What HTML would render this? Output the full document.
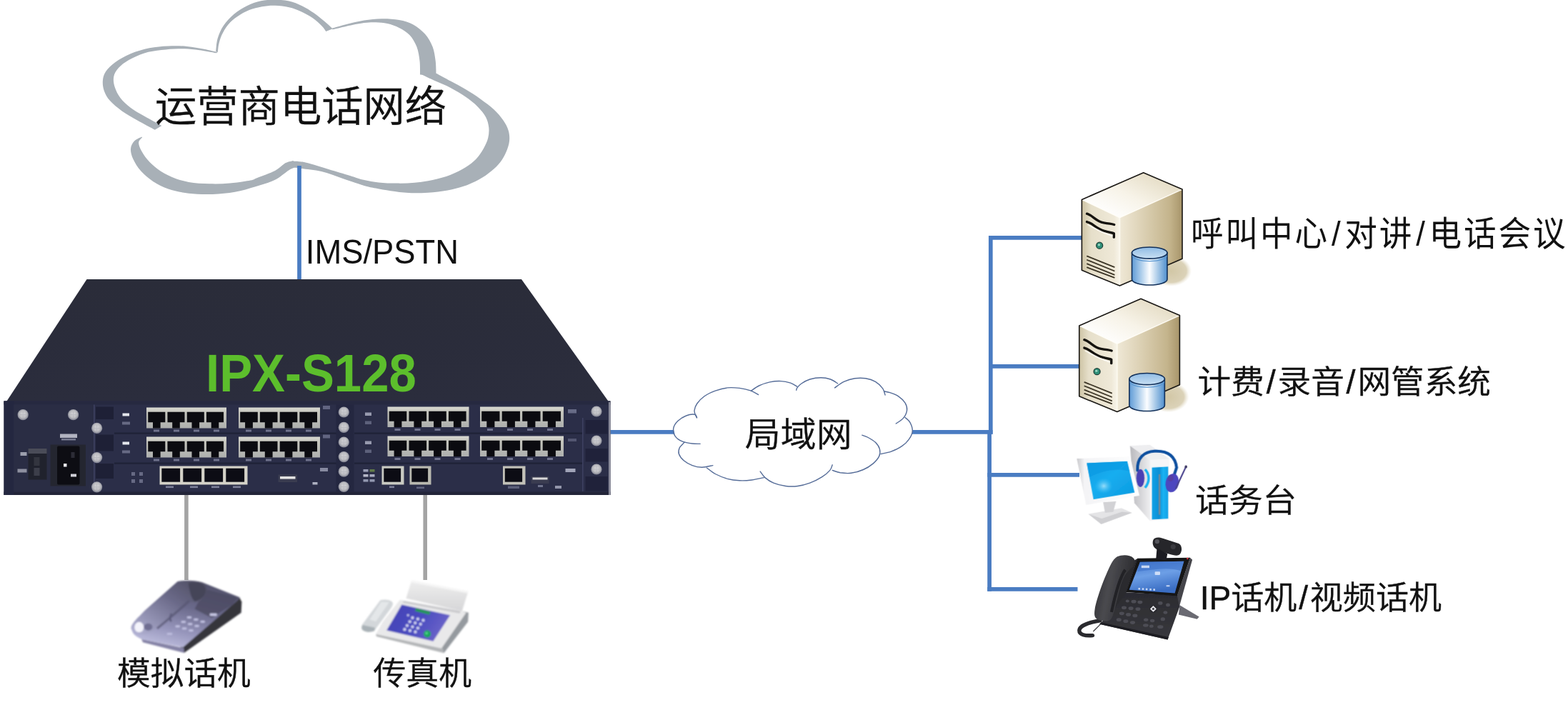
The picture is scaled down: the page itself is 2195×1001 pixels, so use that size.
<!DOCTYPE html>
<html lang="zh-CN">
<head>
<meta charset="utf-8">
<title>IPX-S128 组网图</title>
<style>
html,body{margin:0;padding:0;background:#fff;}
body{width:2195px;height:1001px;overflow:hidden;}
svg{display:block;}
text{font-family:"Liberation Sans","Noto Sans CJK SC",sans-serif;fill:#111;}
.cn{font-weight:400;}
</style>
</head>
<body>
<svg width="2195" height="1001" viewBox="0 0 2195 1001">
<rect width="2195" height="1001" fill="#fff"/>
<g id="links" stroke="#4a7cc2" stroke-width="5.7" fill="none" stroke-linecap="butt">
<path d="M852 604.9H945"/>
<path d="M1277 604.9H1389.6"/>
<path d="M1386.8 330V607.7"/>
<path d="M1385.1 602V827.7"/>
<path d="M1384 332.85H1515"/>
<path d="M1384 512.9H1512"/>
<path d="M1382.3 664.9H1511"/>
<path d="M1382.3 824.9H1508.5"/>
</g>
<g id="links-grey" stroke="#a4a4a4" stroke-width="5.6" fill="none">
<path d="M260.9 692V812"/>
<path d="M595.2 692V812"/>
</g>
<g id="cloud-big" fill="#a8b0b7">
<path d="M304.5 73.0C301.4 72.3 292.9 70.1 285.8 68.7C278.7 67.3 270.2 65.6 261.8 64.9C253.4 64.1 244.2 64.0 235.5 64.4C226.7 64.8 217.9 65.5 209.1 67.3C200.3 69.1 190.7 71.9 182.7 75.2C174.7 78.5 167.0 83.0 161.2 87.2C155.4 91.3 150.9 96.1 148.0 100.3C145.1 104.6 144.3 108.3 143.9 112.8C143.5 117.3 144.1 122.5 145.8 127.2C147.5 131.9 149.8 136.4 154.0 141.1C158.1 145.8 164.4 150.9 170.7 155.5C177.1 160.1 184.6 164.2 192.3 168.6C200.0 173.0 212.7 179.6 216.8 181.8L226.4 176.1C222.3 173.8 209.2 166.9 201.9 162.6C194.6 158.4 188.2 154.9 182.7 150.7C177.2 146.5 172.5 142.3 168.8 137.5C165.2 132.7 162.3 126.9 160.7 121.9C159.1 116.9 158.4 112.0 159.2 107.5C160.1 103.0 162.4 99.0 166.0 95.1C169.5 91.1 174.3 87.5 180.3 84.0C186.3 80.6 194.3 76.8 201.9 74.4C209.5 72.1 217.9 71.2 225.9 70.1C233.9 69.1 241.9 68.3 249.8 68.2C257.8 68.1 264.9 68.4 273.8 69.4C282.7 70.4 298.2 73.4 303.0 74.2Z"/>
<path d="M302.1 72.2C302.6 69.2 302.8 60.1 304.6 54.1C306.4 48.1 309.0 41.8 312.8 36.1C316.6 30.3 322.1 24.3 327.6 19.7C333.0 15.0 339.3 11.3 345.6 8.2C351.9 5.1 358.7 2.7 365.3 1.3C371.8 -0.1 378.4 -0.4 385.0 -0.3C391.5 -0.3 398.4 0.2 404.6 1.6C410.9 3.1 416.9 5.5 422.7 8.2C428.4 10.9 433.9 14.5 439.1 18.0C444.3 21.6 449.4 25.8 453.8 29.5C458.3 33.2 463.7 38.5 465.7 40.3L456.3 44.0C455.4 42.7 453.7 39.6 450.6 36.4C447.4 33.2 442.4 28.3 437.4 24.9C432.5 21.5 426.5 18.4 421.0 15.9C415.6 13.4 410.7 11.5 404.6 10.2C398.6 8.8 391.3 7.9 385.0 7.7C378.7 7.5 372.9 8.1 366.9 9.2C360.9 10.3 354.6 11.8 348.9 14.1C343.1 16.4 337.4 19.6 332.5 23.0C327.6 26.4 323.1 30.1 319.4 34.4C315.7 38.8 312.5 44.6 310.3 49.2C308.2 53.8 307.1 58.3 306.2 62.3C305.3 66.3 305.1 71.3 304.9 73.1Z"/>
<path d="M464.5 39.9C467.9 38.9 477.5 36.0 485.0 34.1C492.5 32.2 501.4 29.8 509.6 28.5C517.8 27.2 526.0 26.4 534.2 26.2C542.4 26.1 551.4 26.5 558.8 27.9C566.2 29.2 572.5 31.2 578.5 34.4C584.5 37.7 590.4 42.4 594.9 47.6C599.4 52.8 603.1 59.3 605.6 65.6C608.0 71.9 608.8 78.7 609.7 85.3C610.5 91.8 610.5 101.7 610.6 105.0L588.0 104.5C587.9 101.3 588.3 91.8 587.5 85.3C586.8 78.8 585.7 71.6 583.4 65.6C581.1 59.6 577.7 53.7 573.6 49.2C569.5 44.7 564.0 41.5 558.8 38.9C553.6 36.2 547.9 34.4 542.4 33.1C536.9 31.9 531.5 31.5 526.0 31.3C520.5 31.2 516.4 31.2 509.6 32.1C502.8 33.0 492.3 35.2 485.0 36.7C477.7 38.3 468.9 40.6 465.7 41.3Z"/>
<path d="M610.8 102.7C614.2 104.5 624.0 109.8 630.8 113.6C637.6 117.3 644.8 120.9 651.7 125.1C658.7 129.3 666.1 134.0 672.7 138.7C679.4 143.5 686.4 148.5 691.6 153.4C696.9 158.3 700.8 163.2 704.2 168.1C707.6 173.0 710.3 177.9 711.7 182.8C713.2 187.7 713.5 192.6 713.0 197.5C712.5 202.4 710.9 207.3 708.8 212.2C706.7 217.1 703.9 222.3 700.4 226.9C696.9 231.4 692.8 235.4 687.8 239.4C682.9 243.5 677.0 247.7 670.6 251.2C664.3 254.7 657.0 258.1 649.7 260.6C642.3 263.2 635.0 265.0 626.6 266.5C618.2 268.0 608.4 269.1 599.3 269.7C590.2 270.2 580.8 270.5 572.0 270.1C563.3 269.7 554.5 268.4 546.9 267.3C539.2 266.3 532.0 264.8 525.9 263.6C519.7 262.3 517.6 262.3 509.9 260.0C502.3 257.7 489.9 253.3 479.9 249.9C469.9 246.6 459.6 242.4 449.9 240.1C440.3 237.8 428.3 237.0 422.0 236.1C415.8 235.1 414.2 234.7 412.6 234.4L408.4 225.6C410.1 225.7 415.3 225.8 418.9 226.2C422.5 226.6 423.1 226.2 430.0 228.0C436.9 229.8 450.0 233.9 460.0 236.9C470.0 239.9 481.7 243.4 490.0 245.9C498.3 248.5 503.3 250.5 509.9 252.0C516.6 253.6 522.5 254.6 530.1 255.4C537.6 256.2 546.9 256.6 555.2 256.6C563.6 256.7 572.0 256.6 580.4 255.8C588.8 255.0 597.2 253.9 605.6 252.0C614.0 250.2 623.1 247.7 630.8 244.7C638.5 241.7 645.8 237.9 651.7 234.2C657.7 230.5 662.2 227.0 666.4 222.7C670.6 218.3 674.1 212.9 676.9 208.0C679.7 203.1 682.0 198.2 683.2 193.3C684.4 188.4 684.8 183.5 684.3 178.6C683.7 173.7 682.7 168.8 680.1 163.9C677.4 159.0 673.3 154.0 668.5 149.2C663.8 144.5 658.0 140.0 651.7 135.6C645.5 131.2 637.8 126.7 630.8 123.0C623.8 119.3 616.9 116.8 609.8 113.6C602.7 110.3 592.0 105.2 588.4 103.5Z"/>
<path d="M198.5 191.4C196.8 192.4 190.6 194.6 188.0 197.4C185.4 200.2 183.2 204.0 183.0 208.2C182.7 212.4 184.0 217.4 186.3 222.6C188.7 227.8 192.5 234.2 197.1 239.3C201.7 244.5 207.5 249.5 213.9 253.7C220.3 257.9 227.1 261.7 235.5 264.5C243.8 267.4 253.8 269.5 264.2 270.7C274.6 272.0 287.0 272.3 297.8 271.9C308.6 271.6 318.9 270.6 328.9 268.8C338.9 267.0 348.3 264.0 357.7 261.2C367.0 258.3 377.2 255.7 385.0 251.8C392.9 247.9 399.6 240.9 404.9 237.9C410.2 234.9 414.7 234.3 416.7 233.6L410.9 225.2C409.1 225.7 404.2 225.8 399.9 228.1C395.6 230.4 391.7 235.4 385.0 238.9C378.4 242.3 365.8 246.7 360.1 248.9C354.3 251.2 356.9 251.3 350.5 252.5C344.1 253.8 331.3 255.8 321.7 256.6C312.2 257.4 302.6 257.6 293.0 257.3C283.4 257.0 273.0 256.5 264.2 254.9C255.4 253.3 247.4 250.7 240.3 247.7C233.1 244.7 226.7 240.9 221.1 237.0C215.5 233.0 210.7 228.4 206.7 223.8C202.7 219.2 199.2 213.5 197.1 209.4C195.0 205.3 193.9 201.9 194.2 199.1C194.6 196.2 198.2 193.5 199.0 192.4Z"/>
</g>
<path d="M419 232V392" stroke="#4a7cc2" stroke-width="5.7" fill="none"/>
<defs>
<radialGradient id="scr" cx="50%" cy="45%" r="55%"><stop offset="0" stop-color="#d8d8da"/><stop offset="0.6" stop-color="#bcbcc0"/><stop offset="1" stop-color="#7d7f8e"/></radialGradient>
<linearGradient id="top" x1="0" y1="0" x2="0" y2="1"><stop offset="0" stop-color="#2a2c39"/><stop offset="1" stop-color="#2b2d3d"/></linearGradient>
<linearGradient id="frm" x1="0" y1="0" x2="0" y2="1"><stop offset="0" stop-color="#d9d9d2"/><stop offset="0.25" stop-color="#c4c4bc"/><stop offset="1" stop-color="#aeb0ae"/></linearGradient>
</defs>
<g id="device">
<path d="M121.5 391H730L852.5 563H8.5Z" fill="url(#top)"/>
<rect x="5.5" y="561.5" width="849" height="131.5" fill="#2b2e48"/>
<rect x="5.5" y="561.5" width="849" height="5" fill="#262940"/>
<rect x="5.5" y="688.5" width="849" height="4.5" fill="#232539"/>
<rect x="5.5" y="561.5" width="14" height="131.5" fill="#242740"/>
<rect x="852" y="563" width="2.6" height="130" fill="#8a8b9a"/>
<rect x="160" y="605.5" width="312" height="2.2" fill="#1f2237"/>
<rect x="496" y="605.5" width="320" height="2.2" fill="#1f2237"/>
<rect x="160" y="647.5" width="312" height="2.2" fill="#1f2237"/>
<rect x="496" y="647.5" width="320" height="2.2" fill="#1f2237"/>
<rect x="19.5" y="566.5" width="112" height="122" fill="#2a2d44"/>
<rect x="131" y="566.5" width="1.6" height="122" fill="#3d4060"/>
<rect x="134" y="569.5" width="25" height="17.5" fill="#1e2036"/>
<rect x="134" y="608.5" width="25" height="23.0" fill="#1e2036"/>
<rect x="134" y="649.0" width="25" height="21.0" fill="#1e2036"/>
<rect x="470.5" y="566.5" width="25" height="122" fill="#242740"/>
<rect x="815" y="585" width="1.6" height="103" fill="#3d4060"/>
<rect x="819.5" y="588.0" width="31" height="19.5" fill="#20223a"/>
<rect x="819.5" y="628.0" width="31" height="18.5" fill="#20223a"/>
<rect x="819.5" y="667.0" width="31" height="20.5" fill="#20223a"/>
<circle cx="32.2" cy="580.7" r="7.6" fill="url(#scr)"/>
<path d="M28.0 580.7h8.4M32.2 576.5v8.4" stroke="#a9abb3" stroke-width="1" opacity="0.6"/>
<circle cx="102.6" cy="580.7" r="7.6" fill="url(#scr)"/>
<path d="M98.4 580.7h8.4M102.6 576.5v8.4" stroke="#a9abb3" stroke-width="1" opacity="0.6"/>
<circle cx="135.6" cy="599.4" r="7.6" fill="url(#scr)"/>
<path d="M131.4 599.4h8.4M135.6 595.2v8.4" stroke="#a9abb3" stroke-width="1" opacity="0.6"/>
<circle cx="135.6" cy="640.6" r="7.6" fill="url(#scr)"/>
<path d="M131.4 640.6h8.4M135.6 636.4v8.4" stroke="#a9abb3" stroke-width="1" opacity="0.6"/>
<circle cx="135.6" cy="681.8" r="7.6" fill="url(#scr)"/>
<path d="M131.4 681.8h8.4M135.6 677.6v8.4" stroke="#a9abb3" stroke-width="1" opacity="0.6"/>
<circle cx="481.3" cy="577.0" r="7.6" fill="url(#scr)"/>
<path d="M477.1 577.0h8.4M481.3 572.8v8.4" stroke="#a9abb3" stroke-width="1" opacity="0.6"/>
<circle cx="481.3" cy="598.4" r="7.6" fill="url(#scr)"/>
<path d="M477.1 598.4h8.4M481.3 594.2v8.4" stroke="#a9abb3" stroke-width="1" opacity="0.6"/>
<circle cx="481.3" cy="619.0" r="7.6" fill="url(#scr)"/>
<path d="M477.1 619.0h8.4M481.3 614.8v8.4" stroke="#a9abb3" stroke-width="1" opacity="0.6"/>
<circle cx="481.3" cy="639.6" r="7.6" fill="url(#scr)"/>
<path d="M477.1 639.6h8.4M481.3 635.4v8.4" stroke="#a9abb3" stroke-width="1" opacity="0.6"/>
<circle cx="481.3" cy="660.2" r="7.6" fill="url(#scr)"/>
<path d="M477.1 660.2h8.4M481.3 656.0v8.4" stroke="#a9abb3" stroke-width="1" opacity="0.6"/>
<circle cx="481.3" cy="681.5" r="7.6" fill="url(#scr)"/>
<path d="M477.1 681.5h8.4M481.3 677.3v8.4" stroke="#a9abb3" stroke-width="1" opacity="0.6"/>
<circle cx="835.0" cy="576.0" r="7.6" fill="url(#scr)"/>
<path d="M830.8 576.0h8.4M835.0 571.8v8.4" stroke="#a9abb3" stroke-width="1" opacity="0.6"/>
<circle cx="835.0" cy="617.0" r="7.6" fill="url(#scr)"/>
<path d="M830.8 617.0h8.4M835.0 612.8v8.4" stroke="#a9abb3" stroke-width="1" opacity="0.6"/>
<circle cx="835.0" cy="657.0" r="7.6" fill="url(#scr)"/>
<path d="M830.8 657.0h8.4M835.0 652.8v8.4" stroke="#a9abb3" stroke-width="1" opacity="0.6"/>
<rect x="39.5" y="628" width="26" height="43.5" fill="#20222d"/>
<rect x="39.5" y="628" width="26" height="7" fill="#4a4c58"/>
<rect x="47.5" y="640" width="8" height="12" fill="#33353f"/><rect x="47.5" y="655" width="8" height="11" fill="#3c3e4a"/>
<rect x="28.5" y="633" width="9" height="5" fill="#b9bbc8" opacity="0.8"/>
<rect x="24.5" y="656.5" width="13" height="5" fill="#b9bbc8" opacity="0.7"/>
<rect x="70.5" y="622.5" width="49.5" height="58" fill="#242630"/>
<rect x="80" y="624.5" width="31.5" height="54" rx="2" fill="#0d0d13"/>
<rect x="89" y="649" width="4.5" height="4.5" fill="#e8e8ee"/><rect x="99" y="663.5" width="8" height="4" fill="#d0d0d8"/><rect x="99.5" y="633" width="5" height="8" fill="#2c2c36"/>
<rect x="84" y="607.5" width="24" height="5.5" fill="#c9cbd6" opacity="0.85"/><rect x="86" y="614" width="20" height="2.5" fill="#9a9cb0" opacity="0.7"/>
<rect x="205.0" y="570.5" width="112.0" height="29.0" fill="url(#frm)"/>
<path d="M207.2 576.8h24.1v14.5h-6.7v8.2h-10.6v-8.2h-6.7Z" fill="#0b0b10"/>
<path d="M234.4 576.8h24.1v14.5h-6.7v8.2h-10.6v-8.2h-6.7Z" fill="#0b0b10"/>
<path d="M261.7 576.8h24.1v14.5h-6.7v8.2h-10.6v-8.2h-6.7Z" fill="#0b0b10"/>
<path d="M288.9 576.8h24.1v14.5h-6.7v8.2h-10.6v-8.2h-6.7Z" fill="#0b0b10"/>
<rect x="334.0" y="570.5" width="114.0" height="29.0" fill="url(#frm)"/>
<path d="M336.2 576.8h24.6v14.5h-6.9v8.2h-10.8v-8.2h-6.9Z" fill="#0b0b10"/>
<path d="M363.9 576.8h24.6v14.5h-6.9v8.2h-10.8v-8.2h-6.9Z" fill="#0b0b10"/>
<path d="M391.7 576.8h24.6v14.5h-6.9v8.2h-10.8v-8.2h-6.9Z" fill="#0b0b10"/>
<path d="M419.4 576.8h24.6v14.5h-6.9v8.2h-10.8v-8.2h-6.9Z" fill="#0b0b10"/>
<rect x="542.5" y="569.5" width="114.0" height="28.5" fill="url(#frm)"/>
<path d="M544.7 575.8h24.6v14.0h-6.9v8.2h-10.8v-8.2h-6.9Z" fill="#0b0b10"/>
<path d="M572.5 575.8h24.6v14.0h-6.9v8.2h-10.8v-8.2h-6.9Z" fill="#0b0b10"/>
<path d="M600.2 575.8h24.6v14.0h-6.9v8.2h-10.8v-8.2h-6.9Z" fill="#0b0b10"/>
<path d="M628.0 575.8h24.6v14.0h-6.9v8.2h-10.8v-8.2h-6.9Z" fill="#0b0b10"/>
<rect x="672.0" y="569.5" width="117.0" height="28.5" fill="url(#frm)"/>
<path d="M674.2 575.8h25.3v14.0h-7.1v8.2h-11.1v-8.2h-7.1Z" fill="#0b0b10"/>
<path d="M702.7 575.8h25.3v14.0h-7.1v8.2h-11.1v-8.2h-7.1Z" fill="#0b0b10"/>
<path d="M731.2 575.8h25.3v14.0h-7.1v8.2h-11.1v-8.2h-7.1Z" fill="#0b0b10"/>
<path d="M759.7 575.8h25.3v14.0h-7.1v8.2h-11.1v-8.2h-7.1Z" fill="#0b0b10"/>
<rect x="205.0" y="611.5" width="112.0" height="29.0" fill="url(#frm)"/>
<path d="M207.2 617.8h24.1v14.5h-6.7v8.2h-10.6v-8.2h-6.7Z" fill="#0b0b10"/>
<path d="M234.4 617.8h24.1v14.5h-6.7v8.2h-10.6v-8.2h-6.7Z" fill="#0b0b10"/>
<path d="M261.7 617.8h24.1v14.5h-6.7v8.2h-10.6v-8.2h-6.7Z" fill="#0b0b10"/>
<path d="M288.9 617.8h24.1v14.5h-6.7v8.2h-10.6v-8.2h-6.7Z" fill="#0b0b10"/>
<rect x="334.0" y="611.5" width="114.0" height="29.0" fill="url(#frm)"/>
<path d="M336.2 617.8h24.6v14.5h-6.9v8.2h-10.8v-8.2h-6.9Z" fill="#0b0b10"/>
<path d="M363.9 617.8h24.6v14.5h-6.9v8.2h-10.8v-8.2h-6.9Z" fill="#0b0b10"/>
<path d="M391.7 617.8h24.6v14.5h-6.9v8.2h-10.8v-8.2h-6.9Z" fill="#0b0b10"/>
<path d="M419.4 617.8h24.6v14.5h-6.9v8.2h-10.8v-8.2h-6.9Z" fill="#0b0b10"/>
<rect x="542.5" y="610.5" width="114.0" height="28.5" fill="url(#frm)"/>
<path d="M544.7 616.8h24.6v14.0h-6.9v8.2h-10.8v-8.2h-6.9Z" fill="#0b0b10"/>
<path d="M572.5 616.8h24.6v14.0h-6.9v8.2h-10.8v-8.2h-6.9Z" fill="#0b0b10"/>
<path d="M600.2 616.8h24.6v14.0h-6.9v8.2h-10.8v-8.2h-6.9Z" fill="#0b0b10"/>
<path d="M628.0 616.8h24.6v14.0h-6.9v8.2h-10.8v-8.2h-6.9Z" fill="#0b0b10"/>
<rect x="672.0" y="610.5" width="117.0" height="28.5" fill="url(#frm)"/>
<path d="M674.2 616.8h25.3v14.0h-7.1v8.2h-11.1v-8.2h-7.1Z" fill="#0b0b10"/>
<path d="M702.7 616.8h25.3v14.0h-7.1v8.2h-11.1v-8.2h-7.1Z" fill="#0b0b10"/>
<path d="M731.2 616.8h25.3v14.0h-7.1v8.2h-11.1v-8.2h-7.1Z" fill="#0b0b10"/>
<path d="M759.7 616.8h25.3v14.0h-7.1v8.2h-11.1v-8.2h-7.1Z" fill="#0b0b10"/>
<rect x="223.5" y="652.5" width="123.0" height="26.0" fill="#d4d2c8"/>
<rect x="226.3" y="655.7" width="25.8" height="19.0" fill="#0c0c14"/>
<rect x="256.3" y="655.7" width="25.8" height="19.0" fill="#0c0c14"/>
<rect x="286.3" y="655.7" width="25.8" height="19.0" fill="#0c0c14"/>
<rect x="316.3" y="655.7" width="25.8" height="19.0" fill="#0c0c14"/>
<rect x="534.5" y="652.5" width="31.0" height="26.0" fill="#c9cac2"/>
<rect x="537.3" y="655.7" width="23.8" height="19.0" fill="#0c0c14"/>
<rect x="573.5" y="652.5" width="30.0" height="26.0" fill="#b9b9b0"/>
<rect x="576.3" y="655.7" width="22.8" height="19.0" fill="#0c0c14"/>
<rect x="704.0" y="652.5" width="31.5" height="26.0" fill="#c2c1b8"/>
<rect x="706.8" y="655.7" width="24.3" height="19.0" fill="#0c0c14"/>
<rect x="389.5" y="664.5" width="26.5" height="10.5" fill="#3a3c50"/><rect x="392" y="667" width="21.5" height="3.6" fill="#e2e2e2"/>
<rect x="743.5" y="667" width="25" height="10" fill="#3a3c50"/><rect x="745.5" y="668.5" width="21" height="3" fill="#d8d8d8"/>
<rect x="171.5" y="578.5" width="9.5" height="4.0" fill="#eef0f6" opacity="0.95"/>
<rect x="171.0" y="590.5" width="11.0" height="4.0" fill="#8f93ad" opacity="0.60"/>
<rect x="511.0" y="577.5" width="9.0" height="4.5" fill="#c6c9da" opacity="0.70"/>
<rect x="511.0" y="589.5" width="9.0" height="4.5" fill="#8f93ad" opacity="0.50"/>
<rect x="171.5" y="618.5" width="9.5" height="4.0" fill="#eef0f6" opacity="0.95"/>
<rect x="171.0" y="630.5" width="11.0" height="4.0" fill="#8f93ad" opacity="0.60"/>
<rect x="511.0" y="617.5" width="9.0" height="4.5" fill="#c6c9da" opacity="0.70"/>
<rect x="511.0" y="629.5" width="9.0" height="4.5" fill="#8f93ad" opacity="0.50"/>
<rect x="215.0" y="601.5" width="8.0" height="3.0" fill="#a9adc6" opacity="0.55"/>
<rect x="243.0" y="601.5" width="8.0" height="3.0" fill="#a9adc6" opacity="0.55"/>
<rect x="271.0" y="601.5" width="8.0" height="3.0" fill="#a9adc6" opacity="0.55"/>
<rect x="299.0" y="601.5" width="8.0" height="3.0" fill="#a9adc6" opacity="0.55"/>
<rect x="344.0" y="601.5" width="8.0" height="3.0" fill="#a9adc6" opacity="0.55"/>
<rect x="372.0" y="601.5" width="8.0" height="3.0" fill="#a9adc6" opacity="0.55"/>
<rect x="400.0" y="601.5" width="8.0" height="3.0" fill="#a9adc6" opacity="0.55"/>
<rect x="428.0" y="601.5" width="8.0" height="3.0" fill="#a9adc6" opacity="0.55"/>
<rect x="552.5" y="600.0" width="8.0" height="3.0" fill="#a9adc6" opacity="0.55"/>
<rect x="580.5" y="600.0" width="8.0" height="3.0" fill="#a9adc6" opacity="0.55"/>
<rect x="608.5" y="600.0" width="8.0" height="3.0" fill="#a9adc6" opacity="0.55"/>
<rect x="636.5" y="600.0" width="8.0" height="3.0" fill="#a9adc6" opacity="0.55"/>
<rect x="682.0" y="600.0" width="8.0" height="3.0" fill="#a9adc6" opacity="0.55"/>
<rect x="710.0" y="600.0" width="8.0" height="3.0" fill="#a9adc6" opacity="0.55"/>
<rect x="738.0" y="600.0" width="8.0" height="3.0" fill="#a9adc6" opacity="0.55"/>
<rect x="766.0" y="600.0" width="8.0" height="3.0" fill="#a9adc6" opacity="0.55"/>
<rect x="215.0" y="642.5" width="8.0" height="3.0" fill="#a9adc6" opacity="0.55"/>
<rect x="243.0" y="642.5" width="8.0" height="3.0" fill="#a9adc6" opacity="0.55"/>
<rect x="271.0" y="642.5" width="8.0" height="3.0" fill="#a9adc6" opacity="0.55"/>
<rect x="299.0" y="642.5" width="8.0" height="3.0" fill="#a9adc6" opacity="0.55"/>
<rect x="344.0" y="642.5" width="8.0" height="3.0" fill="#a9adc6" opacity="0.55"/>
<rect x="372.0" y="642.5" width="8.0" height="3.0" fill="#a9adc6" opacity="0.55"/>
<rect x="400.0" y="642.5" width="8.0" height="3.0" fill="#a9adc6" opacity="0.55"/>
<rect x="428.0" y="642.5" width="8.0" height="3.0" fill="#a9adc6" opacity="0.55"/>
<rect x="552.5" y="641.0" width="8.0" height="3.0" fill="#a9adc6" opacity="0.55"/>
<rect x="580.5" y="641.0" width="8.0" height="3.0" fill="#a9adc6" opacity="0.55"/>
<rect x="608.5" y="641.0" width="8.0" height="3.0" fill="#a9adc6" opacity="0.55"/>
<rect x="636.5" y="641.0" width="8.0" height="3.0" fill="#a9adc6" opacity="0.55"/>
<rect x="682.0" y="641.0" width="8.0" height="3.0" fill="#a9adc6" opacity="0.55"/>
<rect x="710.0" y="641.0" width="8.0" height="3.0" fill="#a9adc6" opacity="0.55"/>
<rect x="738.0" y="641.0" width="8.0" height="3.0" fill="#a9adc6" opacity="0.55"/>
<rect x="766.0" y="641.0" width="8.0" height="3.0" fill="#a9adc6" opacity="0.55"/>
<rect x="232.0" y="680.5" width="11.0" height="2.6" fill="#b4b8d0" opacity="0.60"/>
<rect x="266.0" y="680.5" width="11.0" height="2.6" fill="#b4b8d0" opacity="0.60"/>
<rect x="296.0" y="680.5" width="11.0" height="2.6" fill="#b4b8d0" opacity="0.60"/>
<rect x="326.0" y="680.5" width="11.0" height="2.6" fill="#b4b8d0" opacity="0.60"/>
<rect x="545.0" y="680.5" width="7.0" height="2.6" fill="#b4b8d0" opacity="0.60"/>
<rect x="583.0" y="681.5" width="11.0" height="2.6" fill="#9a9eb8" opacity="0.50"/>
<rect x="711.0" y="680.5" width="16.0" height="3.5" fill="#8d91ac" opacity="0.50"/>
<rect x="753.0" y="679.0" width="7.0" height="3.0" fill="#b4b8d0" opacity="0.50"/>
<rect x="795.0" y="573.0" width="12.0" height="5.5" fill="#9094b0" opacity="0.60"/>
<rect x="795.0" y="614.0" width="12.0" height="4.0" fill="#8488a4" opacity="0.45"/>
<rect x="791.5" y="656.0" width="14.0" height="5.0" fill="#c9ccde" opacity="0.75"/>
<rect x="452.0" y="568.0" width="10.0" height="5.0" fill="#9094b0" opacity="0.55"/>
<rect x="452.0" y="608.5" width="10.0" height="5.0" fill="#9094b0" opacity="0.55"/>
<rect x="448.0" y="655.0" width="11.0" height="5.0" fill="#b8bbd0" opacity="0.65"/>
<rect x="777.0" y="680.0" width="9.0" height="4.0" fill="#c0c3d6" opacity="0.70"/>
<rect x="437.5" y="675.0" width="7.0" height="3.5" fill="#d0d2e0" opacity="0.80"/>
<rect x="508.5" y="657.0" width="7.0" height="3.6" fill="#b5b9cf" opacity="0.80"/>
<rect x="517.5" y="657.0" width="7.0" height="3.6" fill="#6f8f4a" opacity="0.80"/>
<rect x="508.5" y="664.0" width="7.0" height="3.6" fill="#d9dbe8" opacity="0.80"/>
<rect x="517.5" y="664.0" width="7.0" height="3.6" fill="#c9ccde" opacity="0.80"/>
<rect x="508.5" y="671.0" width="7.0" height="3.6" fill="#aab0c8" opacity="0.80"/>
<rect x="517.5" y="671.0" width="7.0" height="3.6" fill="#aab0c8" opacity="0.80"/>
<rect x="184.0" y="661.0" width="5.0" height="5.0" fill="#8f93ad" opacity="0.60"/>
<rect x="195.0" y="661.0" width="5.0" height="5.0" fill="#8f93ad" opacity="0.60"/>
<rect x="184.0" y="671.0" width="5.0" height="5.0" fill="#8f93ad" opacity="0.60"/>
<rect x="195.0" y="671.0" width="5.0" height="5.0" fill="#8f93ad" opacity="0.60"/>
</g>
<text x="288.1" y="548.4" font-size="73.6" font-weight="700" style="fill:#5cbe2c" textLength="294.6" lengthAdjust="spacingAndGlyphs">IPX-S128</text>
<g id="cloud-lan">
<path d="M972.5 580.3L960.6 582.0L948.7 589.6L942.7 599.8L945.3 610.8L955.5 618.2L969.1 621.0L951.2 627.0L950.4 635.5L957.2 644.8L969.1 651.6L982.6 654.2L1001.3 663.5L1018.3 670.3L1035.3 672.8L1052.3 672.0L1069.2 668.6L1070.9 668.6L1082.8 676.2L1099.8 680.5L1116.8 680.5L1133.8 676.2L1150.8 667.7L1161.8 658.4L1176.2 661.8L1191.5 662.3L1208.5 657.5L1222.1 649.1L1230.6 638.9L1231.4 628.7L1247.5 632.1L1262.8 624.4L1273.0 614.2L1277.3 603.2L1273.9 591.3L1264.5 585.4L1269.6 574.3L1267.1 564.2L1257.7 554.8L1245.8 549.7L1235.7 543.8L1225.5 534.4L1211.9 529.8L1196.6 529.8L1181.3 534.4L1162.6 531.0L1149.1 528.8L1133.8 531.0L1121.9 537.0L1115.9 542.9L1106.6 536.1L1093.0 533.6L1077.7 534.9L1062.5 540.0L1050.6 546.8L1035.3 543.4L1018.3 542.9L1001.3 547.2L986.0 554.8L975.8 565.0L972.1 574.3Z" fill="#fff"/>
<g fill="none" stroke="#556c98" stroke-width="1.4" stroke-linecap="round">
<path d="M975.5 584.5C975.0 583.8 974.9 580.7 972.5 580.3C970.0 579.9 964.5 580.4 960.6 582.0C956.6 583.5 951.7 586.7 948.7 589.6C945.7 592.6 943.3 596.3 942.7 599.8C942.2 603.3 943.2 607.8 945.3 610.8C947.4 613.9 951.5 616.5 955.5 618.2C959.4 619.8 965.0 620.5 969.1 621.0C973.2 621.6 978.3 621.3 980.1 621.4"/>
<path d="M958.0 619.3C956.9 620.6 952.5 624.3 951.2 627.0C950.0 629.7 949.4 632.5 950.4 635.5C951.4 638.4 954.1 642.1 957.2 644.8C960.3 647.5 964.8 650.0 969.1 651.6C973.3 653.2 977.8 654.2 982.6 654.2C987.5 654.2 995.4 652.0 997.9 651.6"/>
<path d="M989.4 655.0C991.4 656.4 996.5 660.9 1001.3 663.5C1006.1 666.0 1012.6 668.7 1018.3 670.3C1024.0 671.8 1029.6 672.5 1035.3 672.8C1040.9 673.1 1046.6 672.7 1052.3 672.0C1057.9 671.3 1066.4 669.2 1069.2 668.6"/>
<path d="M1064.2 660.1C1065.3 661.5 1067.8 665.9 1070.9 668.6C1074.1 671.3 1078.0 674.2 1082.8 676.2C1087.6 678.2 1094.2 679.8 1099.8 680.5C1105.5 681.2 1111.1 681.2 1116.8 680.5C1122.5 679.8 1128.1 678.3 1133.8 676.2C1139.4 674.1 1146.1 670.7 1150.8 667.7C1155.4 664.8 1159.4 661.2 1161.8 658.4C1164.2 655.6 1164.6 652.0 1165.2 650.8"/>
<path d="M1165.2 658.4C1167.0 659.0 1171.8 661.1 1176.2 661.8C1180.6 662.4 1186.1 663.0 1191.5 662.3C1196.9 661.6 1203.4 659.8 1208.5 657.5C1213.6 655.3 1218.4 652.2 1222.1 649.1C1225.8 645.9 1229.0 642.3 1230.6 638.9C1232.1 635.5 1232.3 631.9 1231.4 628.7C1230.6 625.4 1228.2 622.0 1225.5 619.3C1222.8 616.7 1218.4 614.2 1215.3 612.5C1212.2 610.8 1208.2 609.7 1206.8 609.2"/>
<path d="M1233.1 635.5C1235.5 634.9 1242.6 633.9 1247.5 632.1C1252.5 630.2 1258.6 627.4 1262.8 624.4C1267.1 621.5 1270.6 617.8 1273.0 614.2C1275.4 610.7 1277.1 607.0 1277.3 603.2C1277.4 599.4 1275.6 594.4 1273.9 591.3C1272.2 588.2 1268.2 585.7 1267.1 584.5"/>
<path d="M1254.3 593.0C1256.0 591.7 1262.0 588.5 1264.5 585.4C1267.1 582.3 1269.2 577.9 1269.6 574.3C1270.0 570.8 1269.1 567.4 1267.1 564.2C1265.1 560.9 1261.3 557.2 1257.7 554.8C1254.2 552.4 1249.1 550.8 1245.8 549.7C1242.6 548.6 1239.5 548.3 1238.2 548.0"/>
<path d="M1239.1 553.1C1238.5 551.6 1237.9 546.9 1235.7 543.8C1233.4 540.7 1229.4 536.8 1225.5 534.4C1221.5 532.1 1216.7 530.6 1211.9 529.8C1207.1 529.1 1201.7 529.1 1196.6 529.8C1191.5 530.6 1186.0 532.3 1181.3 534.4C1176.7 536.6 1170.7 541.5 1168.6 542.9"/>
<path d="M1172.8 537.0C1171.1 536.0 1166.6 532.4 1162.6 531.0C1158.7 529.7 1153.9 528.8 1149.1 528.8C1144.2 528.8 1138.3 529.7 1133.8 531.0C1129.2 532.4 1124.9 535.0 1121.9 537.0C1118.9 539.0 1117.1 541.4 1115.9 542.9C1114.8 544.5 1115.0 545.8 1114.8 546.3"/>
<path d="M1115.9 541.2C1114.4 540.4 1110.4 537.4 1106.6 536.1C1102.8 534.9 1097.8 533.8 1093.0 533.6C1088.2 533.4 1082.8 533.9 1077.7 534.9C1072.6 536.0 1066.8 538.0 1062.5 540.0C1058.1 542.1 1053.3 546.0 1051.4 547.2"/>
<path d="M1061.6 552.6C1059.8 551.6 1055.0 548.4 1050.6 546.8C1046.2 545.3 1040.7 544.1 1035.3 543.4C1029.9 542.8 1024.0 542.3 1018.3 542.9C1012.6 543.5 1006.7 545.2 1001.3 547.2C995.9 549.2 990.3 551.8 986.0 554.8C981.8 557.8 978.2 561.7 975.8 565.0C973.5 568.3 972.5 571.8 972.1 574.3C971.7 576.9 972.7 578.5 973.3 580.3C973.9 582.0 975.1 584.1 975.5 584.9"/>
</g></g>
<defs>
<linearGradient id="svTop" x1="0.1" y1="0.8" x2="0.9" y2="0.1"><stop offset="0" stop-color="#ffffff"/><stop offset="0.45" stop-color="#f7f3e8"/><stop offset="1" stop-color="#e2d9c0"/></linearGradient>
<linearGradient id="svL" x1="0" y1="0" x2="1" y2="0"><stop offset="0" stop-color="#cdc3a4"/><stop offset="0.25" stop-color="#e6dfca"/><stop offset="0.85" stop-color="#efe9d8"/><stop offset="1" stop-color="#f8f5ea"/></linearGradient>
<linearGradient id="svR" x1="0" y1="0" x2="1" y2="0"><stop offset="0" stop-color="#efe8d6"/><stop offset="0.35" stop-color="#ddd2b6"/><stop offset="0.8" stop-color="#c4b48c"/><stop offset="1" stop-color="#a8956a"/></linearGradient>
<linearGradient id="cyl" x1="0" y1="0" x2="1" y2="0"><stop offset="0" stop-color="#5f9bd6"/><stop offset="0.25" stop-color="#a9cbea"/><stop offset="0.5" stop-color="#fbfdff"/><stop offset="0.75" stop-color="#a3c6e6"/><stop offset="1" stop-color="#4f8fce"/></linearGradient>
<linearGradient id="cylT" x1="0" y1="0" x2="0" y2="1"><stop offset="0" stop-color="#8fbbe4"/><stop offset="1" stop-color="#c9e0f3"/></linearGradient>
<radialGradient id="svSh" cx="50%" cy="50%" r="50%"><stop offset="0" stop-color="#d2c7a6"/><stop offset="0.75" stop-color="#dbd2b8"/><stop offset="1" stop-color="#e9e3d1" stop-opacity="0"/></radialGradient>
<g id="server">
<ellipse cx="775" cy="830" rx="160" ry="120" fill="url(#svSh)"/>
<path d="M80 275L375 415V945L80 825Z" fill="url(#svL)"/>
<path d="M375 415L862 195V735L375 945Z" fill="url(#svR)"/>
<path d="M560 65L862 195L375 415L80 275Z" fill="url(#svTop)"/>
<path d="M375 415V945" stroke="#fbf8ee" stroke-width="10" fill="none"/>
<path d="M80 275L375 415L862 195" stroke="#fffdf6" stroke-width="8" fill="none" opacity="0.9"/>
<path d="M560 65L862 195V735L375 945L80 825V275Z" fill="none" stroke="#1a1815" stroke-width="9" stroke-linejoin="round"/>
<path d="M120 385C170 400 190 445 250 455S310 462 332 470" stroke="#15130f" stroke-width="19" fill="none" stroke-linecap="round"/>
<path d="M120 448C170 462 190 500 250 518S310 530 330 538V568" stroke="#15130f" stroke-width="19" fill="none" stroke-linecap="round" stroke-linejoin="round"/>
<path d="M125 470C170 490 200 520 320 560" stroke="#fffdf8" stroke-width="10" fill="none" opacity="0.8"/>
<circle cx="218" cy="632" r="25" fill="#2f8f78" stroke="#1d3d35" stroke-width="7"/>
<circle cx="214" cy="627" r="9" fill="#9fd8c4"/>
<g stroke="#3c3526" stroke-width="10" fill="none" stroke-linecap="round"><path d="M122 715L332 800"/><path d="M122 745L332 830"/><path d="M122 775L332 860"/><path d="M122 803L332 882"/></g>
<path d="M470 690V895A137 45 0 0 0 745 895V690Z" fill="url(#cyl)" stroke="#12305a" stroke-width="9"/>
<ellipse cx="607.5" cy="690" rx="137.5" ry="45" fill="url(#cylT)" stroke="#12305a" stroke-width="9"/>
<path d="M476 712A132 42 0 0 0 740 712" fill="none" stroke="#5b98d2" stroke-width="7"/>
</g>
</defs>
<use href="#server" transform="translate(1500 230) scale(0.17982)"/>
<use href="#server" transform="translate(1496.4 406.5) scale(0.17982)"/>
<defs>
<linearGradient id="opScr" x1="0" y1="0" x2="1" y2="1"><stop offset="0" stop-color="#0f9be3"/><stop offset="0.45" stop-color="#18aef0"/><stop offset="1" stop-color="#0b9ae0"/></linearGradient>
<radialGradient id="opGl" cx="50%" cy="50%" r="50%"><stop offset="0" stop-color="#9fe0fb" stop-opacity="0.95"/><stop offset="1" stop-color="#3cbcf4" stop-opacity="0"/></radialGradient>
<linearGradient id="opFr" x1="0" y1="0" x2="1" y2="0"><stop offset="0" stop-color="#c9c9cc"/><stop offset="0.12" stop-color="#f4f4f6"/><stop offset="1" stop-color="#ffffff"/></linearGradient>
<linearGradient id="opTw" x1="0" y1="0" x2="1" y2="0"><stop offset="0" stop-color="#b9b9bd"/><stop offset="0.6" stop-color="#d9d9dc"/><stop offset="1" stop-color="#efeff1"/></linearGradient>
<linearGradient id="opSt" x1="0" y1="0" x2="1" y2="0"><stop offset="0" stop-color="#10a2e8"/><stop offset="0.45" stop-color="#0d8fd4"/><stop offset="0.7" stop-color="#1cb4f4"/><stop offset="1" stop-color="#0fa0e6"/></linearGradient>
<filter id="blur2" x="-10%" y="-10%" width="120%" height="120%"><feGaussianBlur stdDeviation="5"/></filter>
</defs>
<g id="operator" transform="translate(1495 610) scale(0.13483)">
<g filter="url(#blur2)">
<path d="M210 812L555 752L665 800L345 918Z" fill="#e4e4e6"/>
<path d="M215 815L345 918L665 800L560 790L350 860Z" fill="#cfcfd2"/>
<path d="M365 690L500 680L470 790L385 800Z" fill="#d2d2d5"/>
<path d="M645 105L850 95L1052 240L1052 872L852 884L690 700Z" fill="#f6f6f8"/>
<path d="M645 105L852 250V884L690 700Z" fill="url(#opTw)"/>
<path d="M645 105L850 95L1052 240L852 250Z" fill="#eeeef0"/>
<path d="M872 330L1040 322V860L872 870Z" fill="url(#opSt)"/>
<path d="M950 400V820" stroke="#7d8790" stroke-width="16"/>
<path d="M92 238L645 216L742 622L188 720Z" fill="url(#opFr)"/>
<path d="M195 285L615 265L692 590L265 660Z" fill="url(#opScr)"/>
<path d="M195 285L615 265L640 370C480 330 320 380 225 430Z" fill="#0f9ae2" opacity="0.7"/>
<ellipse cx="372" cy="522" rx="95" ry="85" fill="url(#opGl)"/>
<path d="M722 360C715 230 790 165 900 160S1110 190 1128 330L1105 400" fill="none" stroke="#0f4f9f" stroke-width="30" stroke-linecap="round"/>
<path d="M800 350C850 400 850 480 800 540" fill="none" stroke="#18b4f2" stroke-width="26"/>
<ellipse cx="752" cy="440" rx="42" ry="92" fill="#4a3fb4"/>
<ellipse cx="1082" cy="490" rx="68" ry="98" fill="#4d46bf" transform="rotate(12 1082 490)"/>
<ellipse cx="1065" cy="440" rx="30" ry="35" fill="#5a3f9c" opacity="0.8"/>
<path d="M1120 545L1225 322" stroke="#4d4690" stroke-width="16" stroke-linecap="round"/>
<circle cx="1225" cy="322" r="14" fill="#3a3560"/>
</g>
</g>
<defs>
<linearGradient id="ipScr" x1="0" y1="0" x2="0.3" y2="1"><stop offset="0" stop-color="#3f74cc"/><stop offset="0.5" stop-color="#6d9fe6"/><stop offset="1" stop-color="#3b6ec4"/></linearGradient>
<linearGradient id="ipHs" x1="0" y1="0" x2="1" y2="0.3"><stop offset="0" stop-color="#2b2b2e"/><stop offset="0.45" stop-color="#4a4a4f"/><stop offset="1" stop-color="#2a2a2d"/></linearGradient>
<linearGradient id="ipBd" x1="0" y1="0" x2="0" y2="1"><stop offset="0" stop-color="#2b2b30"/><stop offset="1" stop-color="#38383d"/></linearGradient>
<filter id="blur3" x="-10%" y="-10%" width="120%" height="120%"><feGaussianBlur stdDeviation="4"/></filter>
</defs>
<g id="ipphone" transform="translate(1500 745) scale(0.1598)" filter="url(#blur3)">
<path d="M948 640L1118 742L1100 762L938 722Z" fill="#6a6a72"/>
<path d="M250 775C150 790 70 820 68 860S120 910 185 905" fill="none" stroke="#2b2b2e" stroke-width="34" stroke-linecap="round"/>
<path d="M190 870L260 800" stroke="#3a3a3e" stroke-width="8"/>
<path d="M470 528L930 553L948 650L842 942L245 806L350 700Z" fill="url(#ipBd)"/>
<path d="M245 806L842 942L850 920L260 790Z" fill="#1d1d20"/>
<path d="M1040 225L1058 242L945 650L925 556Z" fill="#45454b"/>
<path d="M545 250L580 230L480 528L350 705L330 600L440 380Z" fill="#29292d"/>
<path d="M578 230L1040 223L925 558L478 526Z" fill="#131317"/>
<path d="M600 262L985 255L905 535L505 505Z" fill="url(#ipScr)"/>
<path d="M600 262L985 255L960 340C850 300 700 330 575 345Z" fill="#3d6fc6" opacity="0.55"/>
<g fill="#dfe9fb" opacity="0.85"><rect x="612" y="292" width="70" height="22"/><rect x="730" y="345" width="46" height="30" rx="6"/><rect x="585" y="488" width="16" height="16"/><rect x="618" y="490" width="16" height="16"/><rect x="650" y="492" width="16" height="16"/><rect x="684" y="494" width="16" height="16"/><rect x="716" y="496" width="16" height="16"/><rect x="830" y="465" width="30" height="12"/></g>
<circle cx="1016" cy="232" r="8" fill="#d8313a"/>
<path d="M400 215C440 195 510 195 540 225S560 290 520 320S450 400 430 470S390 640 365 720S300 780 250 772S195 730 205 670S260 470 300 380S360 240 400 215Z" fill="url(#ipHs)"/>
<path d="M470 330C420 400 380 560 350 700" fill="none" stroke="#1c1c1f" stroke-width="26" opacity="0.8"/>
<path d="M715 70C725 45 760 40 800 55L940 100C965 115 972 150 955 185S880 200 830 185L745 150C715 135 705 100 715 70Z" fill="#262629"/>
<path d="M748 140L840 190L830 245L740 235Z" fill="#1f1f22"/>
<circle cx="750" cy="82" r="20" fill="#55555c"/><circle cx="890" cy="128" r="22" fill="#3a3a40"/>
<g fill="#4e4e55">
<ellipse cx="545" cy="608" rx="22" ry="15"/><ellipse cx="600" cy="614" rx="22" ry="15"/><ellipse cx="490" cy="604" rx="16" ry="13"/>
<ellipse cx="460" cy="662" rx="22" ry="15"/><ellipse cx="520" cy="668" rx="22" ry="15"/><ellipse cx="582" cy="674" rx="22" ry="15"/>
<ellipse cx="440" cy="712" rx="22" ry="15"/><ellipse cx="498" cy="722" rx="22" ry="15"/><ellipse cx="556" cy="732" rx="22" ry="15"/>
<ellipse cx="415" cy="768" rx="22" ry="15"/><ellipse cx="475" cy="780" rx="22" ry="15"/><ellipse cx="535" cy="792" rx="22" ry="15"/>
<ellipse cx="652" cy="768" rx="20" ry="14"/><ellipse cx="708" cy="776" rx="20" ry="14"/><ellipse cx="800" cy="762" rx="20" ry="16"/>
<ellipse cx="650" cy="816" rx="24" ry="14"/><ellipse cx="700" cy="824" rx="18" ry="13"/><ellipse cx="778" cy="830" rx="26" ry="15"/>
<ellipse cx="778" cy="622" rx="20" ry="15"/><ellipse cx="845" cy="638" rx="18" ry="15"/><ellipse cx="822" cy="704" rx="18" ry="14"/>
</g>
<circle cx="716" cy="672" r="34" fill="#2a2a2e"/><path d="M716 644L744 672L716 700L688 672Z" fill="#e9e9ee"/><circle cx="716" cy="672" r="10" fill="#46464c"/>
</g>
<defs>
<linearGradient id="phTop" x1="0.7" y1="0" x2="0.3" y2="1"><stop offset="0" stop-color="#504f68"/><stop offset="0.4" stop-color="#6a698a"/><stop offset="0.75" stop-color="#9796bc"/><stop offset="1" stop-color="#bdbddd"/></linearGradient>
<linearGradient id="phHs" x1="1" y1="0" x2="0" y2="1"><stop offset="0" stop-color="#4b4a5c"/><stop offset="0.4" stop-color="#6a6988"/><stop offset="1" stop-color="#b4b4d6"/></linearGradient>
<linearGradient id="fxTray" x1="0" y1="0" x2="0" y2="1"><stop offset="0" stop-color="#eeeeee"/><stop offset="1" stop-color="#d6d6d8"/></linearGradient>
<linearGradient id="fxPan" x1="0" y1="0" x2="1" y2="0.4"><stop offset="0" stop-color="#4340b4"/><stop offset="0.6" stop-color="#4a4cc0"/><stop offset="1" stop-color="#6a62c8"/></linearGradient>
<filter id="blur4" x="-10%" y="-10%" width="120%" height="120%"><feGaussianBlur stdDeviation="7"/></filter>
</defs>
<g id="phone" transform="translate(170 800) scale(0.12491)" filter="url(#blur4)">
<path d="M1322 290L1348 340L1342 462L702 912L660 840L1200 380Z" fill="#36363b"/>
<path d="M225 758L700 858L702 912L240 795Z" fill="#8583a6"/>
<path d="M630 112C720 95 840 100 905 122L1320 288C1335 300 1300 330 1245 375L690 850L228 760C150 730 105 680 120 630S200 500 260 440Z" fill="url(#phTop)"/>
<path d="M940 200L1310 292L1240 375L1010 520L820 420Z" fill="#4b4a60" opacity="0.75"/>
<path d="M640 125C720 100 860 100 920 140S960 250 900 310S800 345 740 330C640 420 470 560 380 640S200 720 140 680S110 600 180 520Z" fill="url(#phHs)"/>
<path d="M750 130C830 105 920 125 940 190S900 320 820 335C780 300 760 200 750 130Z" fill="#454558"/>
<path d="M760 330C650 430 520 540 400 640" stroke="#55546f" stroke-width="26" fill="none" opacity="0.7"/>
<ellipse cx="198" cy="625" rx="52" ry="58" fill="#f4f4fc"/>
<ellipse cx="300" cy="622" rx="48" ry="40" fill="#6f6e92"/>
<path d="M560 470C540 520 540 540 560 560" stroke="#5d5c7c" stroke-width="22" fill="none"/>
<g fill="#c4c4e4"><rect x="735" y="505" width="50" height="22" rx="8"/><rect x="810" y="528" width="50" height="22" rx="8"/><rect x="885" y="552" width="50" height="22" rx="8"/>
<rect x="670" y="555" width="50" height="22" rx="8"/><rect x="745" y="578" width="50" height="22" rx="8"/><rect x="820" y="600" width="50" height="22" rx="8"/>
<rect x="605" y="605" width="50" height="22" rx="8"/><rect x="680" y="628" width="50" height="22" rx="8"/><rect x="755" y="650" width="50" height="22" rx="8"/>
<rect x="510" y="690" width="60" height="18" rx="8"/><rect x="990" y="470" width="80" height="28" rx="8" fill="#c9c9e6"/></g>
</g>
<g id="fax" transform="translate(495 800) scale(0.12491)" filter="url(#blur4)">
<path d="M1200 440L1288 462L1282 565L1012 915L950 850L1235 455Z" fill="#959a9f"/>
<path d="M250 700L1000 862L1012 915L255 728Z" fill="#b4b6b8"/>
<path d="M650 100L1285 222L1215 445L588 302Z" fill="url(#fxTray)"/>
<path d="M650 100L1285 222L1278 245L645 125Z" fill="#f6f6f6"/>
<path d="M520 318L1200 440L1262 462L985 862L250 702L330 560Z" fill="#e9e9ea"/>
<path d="M560 330L1200 445L1190 470L550 350Z" fill="#c9c9cc"/>
<path d="M540 372L1082 490L892 782L370 660Z" fill="url(#fxPan)"/>
<path d="M700 410L862 450L850 486L688 444Z" fill="#27955a"/>
<circle cx="826" cy="700" r="40" fill="#14a65c"/><circle cx="818" cy="692" r="16" fill="#4fd08a"/>
<g fill="#d4d6f2"><circle cx="660" cy="520" r="17"/><circle cx="720" cy="534" r="17"/><circle cx="780" cy="548" r="17"/>
<circle cx="630" cy="563" r="17"/><circle cx="690" cy="577" r="17"/><circle cx="750" cy="591" r="17"/>
<circle cx="600" cy="607" r="17"/><circle cx="660" cy="621" r="17"/><circle cx="720" cy="635" r="17"/>
<circle cx="572" cy="650" r="17"/><circle cx="632" cy="664" r="17"/><circle cx="692" cy="678" r="17"/><circle cx="610" cy="490" r="12"/></g>
<path d="M300 322C340 310 400 315 425 335S440 380 420 410L240 655C220 680 150 685 115 665S85 620 100 590Z" fill="#d3d7da"/>
<path d="M100 600L240 630L235 665C200 685 140 680 112 664S88 625 100 600Z" fill="#a9b1b6"/>
<path d="M310 340L400 345L250 560L180 540Z" fill="#e4e7e9"/>
</g>
<g id="labels" style="opacity:0.999">
<text transform="matrix(1.0000 0 0 1.0107 217.00 170.14)" font-size="58.3" font-weight="350" stroke="#111" stroke-width="0.45">运营商电话网络</text>
<text transform="matrix(0.9966 0 0 1.0375 427.81 369.40)" font-size="45.5" font-weight="400" >IMS/PSTN</text>
<text transform="matrix(1.0091 0 0 0.9729 1042.79 624.64)" font-size="49.5" font-weight="350" stroke="#111" stroke-width="0.45">局域网</text>
<text transform="matrix(0.9701 0 0 1.0222 1667.12 344.39)" font-size="47" font-weight="400" letter-spacing="3">呼叫中心<tspan dx="2.9">/</tspan><tspan dx="2.9">对讲</tspan><tspan dx="2.9">/</tspan><tspan dx="2.9">电话会议</tspan></text>
<text transform="matrix(1.0035 0 0 0.9800 1676.59 551.20)" font-size="46.5" font-weight="350" stroke="#111" stroke-width="0.45">计费<tspan dx="2.8">/</tspan><tspan dx="2.8">录音</tspan><tspan dx="2.8">/</tspan><tspan dx="2.8">网管系统</tspan></text>
<text transform="matrix(1.0194 0 0 0.9778 1672.96 717.11)" font-size="46.5" font-weight="350" stroke="#111" stroke-width="0.45">话务台</text>
<text transform="matrix(0.9914 0 0 0.9778 1679.73 852.91)" font-size="46.5" font-weight="350" stroke="#111" stroke-width="0.45">IP话机<tspan dx="2.8">/</tspan><tspan dx="2.8">视频话机</tspan></text>
<text transform="matrix(1.0044 0 0 0.9822 163.99 959.09)" font-size="46.5" font-weight="350" stroke="#111" stroke-width="0.45">模拟话机</text>
<text transform="matrix(0.9877 0 0 0.9822 522.41 959.09)" font-size="46.5" font-weight="350" stroke="#111" stroke-width="0.45">传真机</text>
</g>

</svg>
</body>
</html>
